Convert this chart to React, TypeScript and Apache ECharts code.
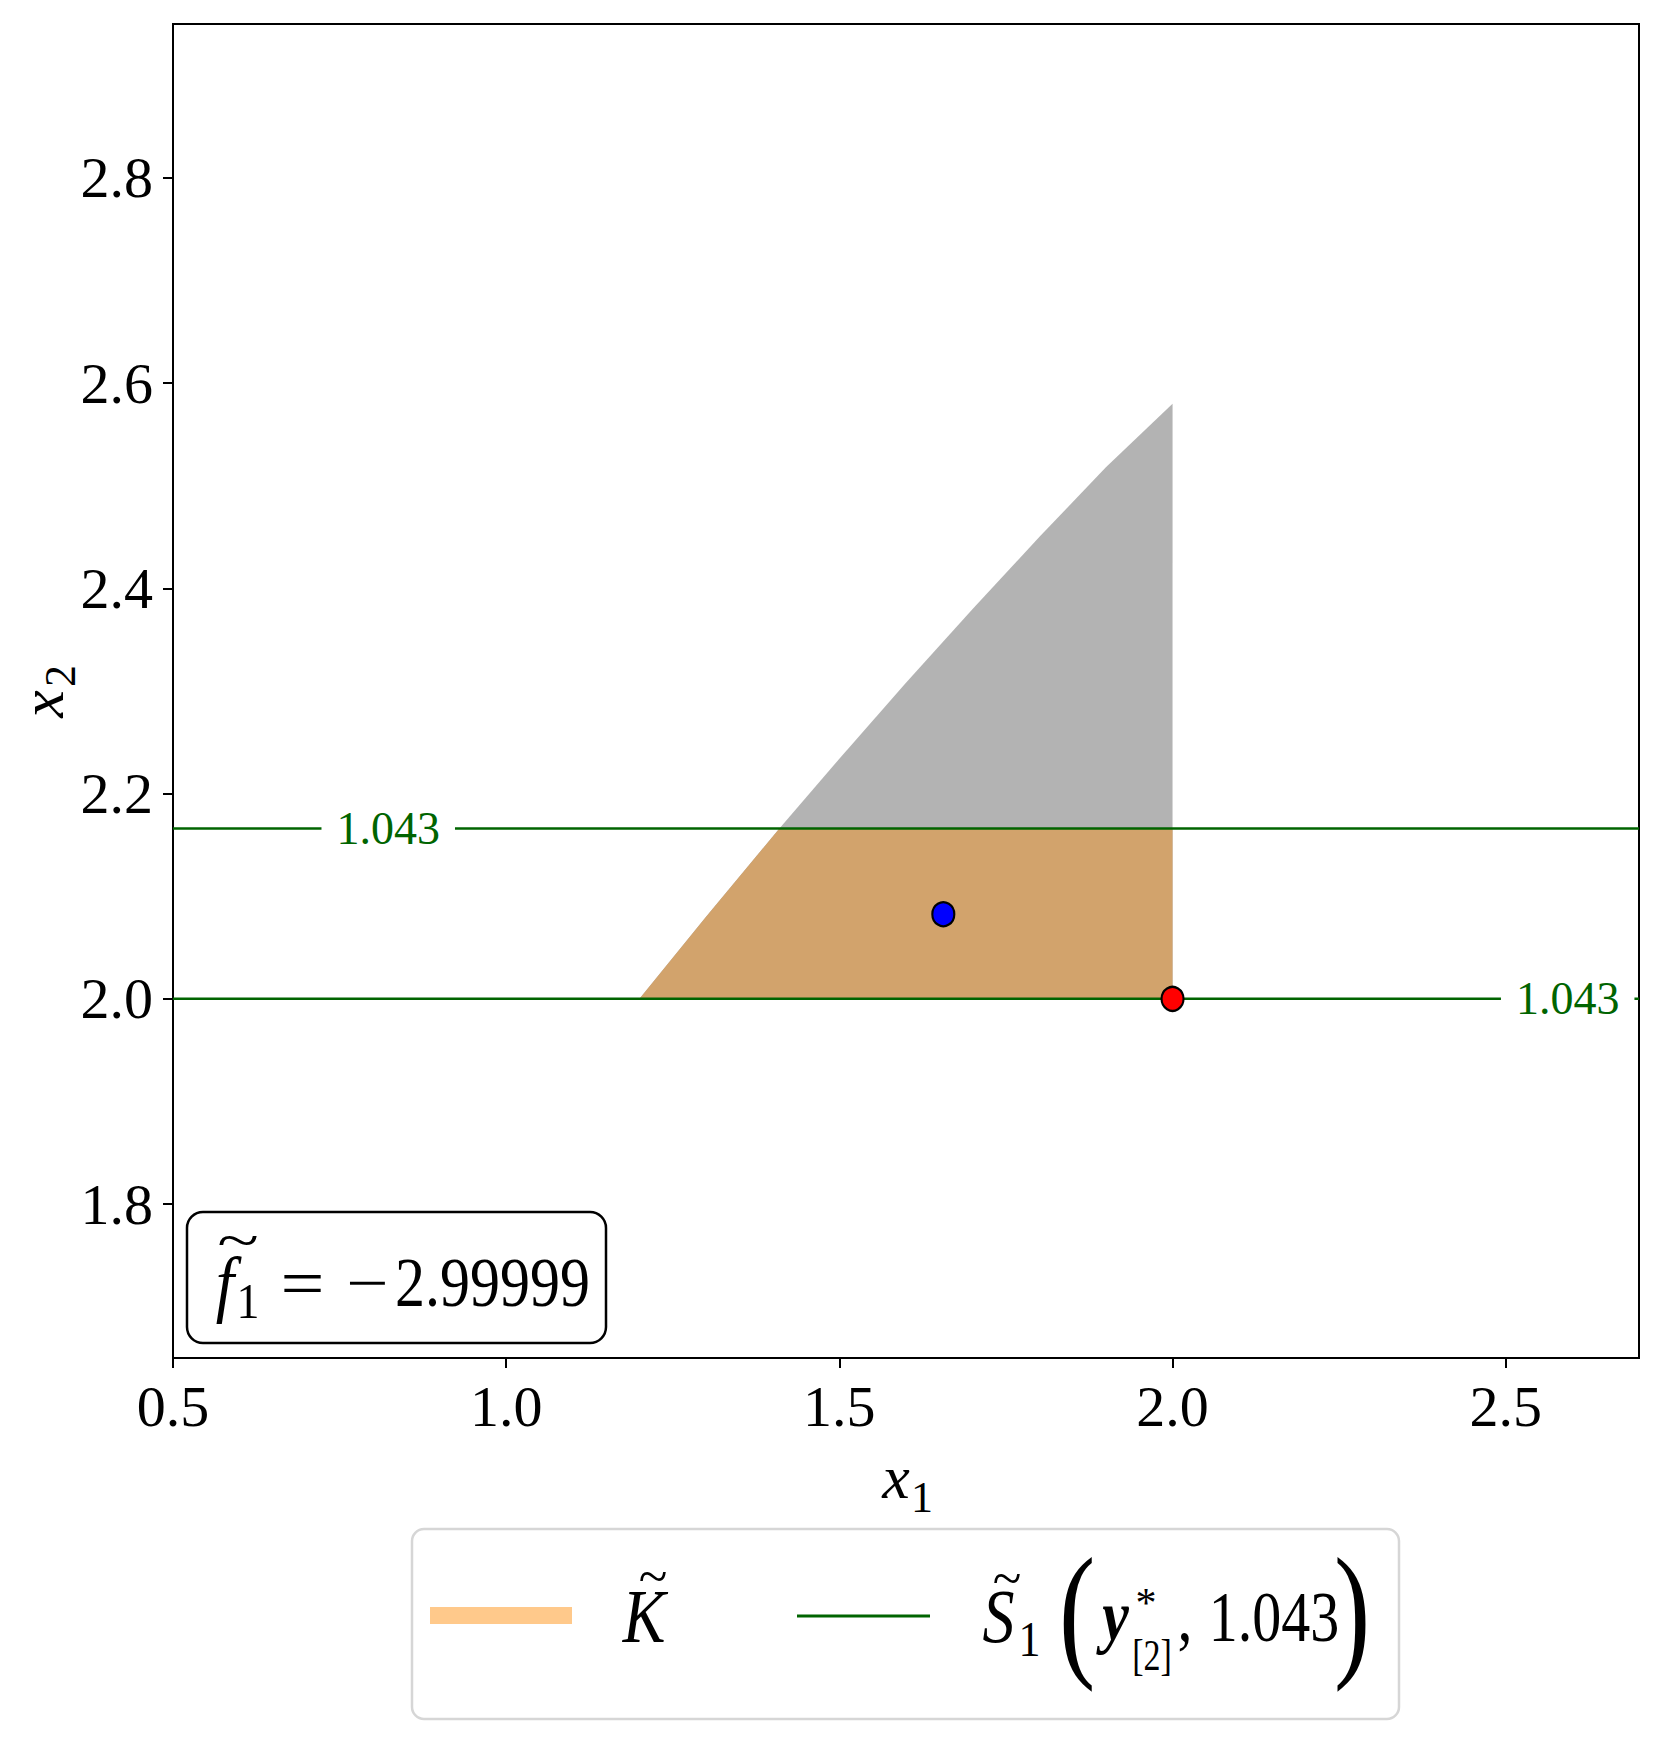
import React, { useEffect, useRef } from 'react';
import * as echarts from 'echarts';

// ---------- data ----------
const xRange = [0.5, 2.7];
const yRange = [1.65, 2.95];
const xTicks = [0.5, 1.0, 1.5, 2.0, 2.5];
const yTicks = [1.8, 2.0, 2.2, 2.4, 2.6, 2.8];

// curved left boundary of the feasible set (x1, x2)
const boundaryX1 = [1.2, 1.3, 1.41, 1.5, 1.6, 1.7, 1.8, 1.9, 2.0];
const boundaryX2 = [2.0, 2.08, 2.166, 2.234, 2.308, 2.38, 2.45, 2.518, 2.58];
const rightEdgeX1 = 2.0;
const baseX2 = 2.0;

// level-set lines S~1(y*, 1.043)
const levelX2 = [2.166, 2.0];
const levelLabel = '1.043';
const levelLabelX1 = [0.823, 2.593];

const bluePoint = [1.656, 2.0825];
const redPoint = [2.0, 2.0];
const f1Value = '2.99999';

const FONT = "'Liberation Serif', 'DejaVu Serif', serif";
const GREEN = '#006400';

type TOpt = { italic?: boolean; bold?: boolean; sx?: number; sy?: number; align?: string; fill?: string };
const T = (text: string, x: number, y: number, fs: number, o: TOpt = {}) => ({
  type: 'text',
  x,
  y,
  scaleX: o.sx ?? 1,
  scaleY: o.sy ?? 1,
  z: 100,
  silent: true,
  style: {
    text,
    fontSize: fs,
    fontFamily: FONT,
    fontStyle: o.italic ? 'italic' : 'normal',
    fontWeight: o.bold ? 'bold' : 'normal',
    fill: o.fill ?? '#000',
    align: o.align ?? 'center',
    verticalAlign: 'middle',
  },
});

export default function App() {
  const ref = useRef<HTMLDivElement>(null);

  useEffect(() => {
    document.body.style.margin = '0';
    const chart = echarts.init(ref.current!, undefined, { renderer: 'svg' });

    const boundary = boundaryX1.map((x, i) => [x, boundaryX2[i]]);
    const grayPoly = [...boundary, [rightEdgeX1, baseX2]];
    const top = levelX2[0];
    const brownPoly = [
      ...boundary.filter((p) => p[1] <= top + 1e-9),
      [rightEdgeX1, top],
      [rightEdgeX1, baseX2],
    ];

    const polySeries = (pts: number[][], color: string, z: number) => ({
      type: 'custom',
      coordinateSystem: 'cartesian2d',
      silent: true,
      z,
      data: pts,
      renderItem: (params: any, api: any) =>
        params.dataIndex === 0
          ? {
              type: 'polygon',
              shape: { points: pts.map((p) => api.coord(p)) },
              style: { fill: color },
            }
          : null,
    });

    const lineSeries = levelX2.map((lv) => ({
      type: 'line',
      data: [
        [xRange[0], lv],
        [xRange[1], lv],
      ],
      symbol: 'none',
      silent: true,
      z: 4,
      lineStyle: { color: GREEN, width: 2.5 },
    }));

    const option: any = {
      animation: false,
      backgroundColor: '#fff',
      grid: {
        left: 173,
        right: 22,
        top: 24,
        bottom: 385,
        show: true,
        borderColor: '#000',
        borderWidth: 2,
        backgroundColor: 'transparent',
        containLabel: false,
        outerBoundsMode: 'none',
      },
      xAxis: {
        type: 'value',
        min: xRange[0],
        max: xRange[1],
        axisLine: { show: true, lineStyle: { color: '#000', width: 2 } },
        splitLine: { show: false },
        axisTick: { show: true, inside: false, length: 10, lineStyle: { color: '#000', width: 2 }, customValues: xTicks },
        axisLabel: {
          customValues: xTicks,
          formatter: (v: number) => v.toFixed(1),
          fontSize: 58,
          fontFamily: FONT,
          color: '#000',
          margin: 19,
        },
      },
      yAxis: {
        type: 'value',
        min: yRange[0],
        max: yRange[1],
        axisLine: { show: true, lineStyle: { color: '#000', width: 2 } },
        splitLine: { show: false },
        axisTick: { show: true, inside: false, length: 10, lineStyle: { color: '#000', width: 2 }, customValues: yTicks },
        axisLabel: {
          customValues: yTicks,
          formatter: (v: number) => v.toFixed(1),
          fontSize: 58,
          fontFamily: FONT,
          color: '#000',
          margin: 20,
        },
      },
      series: [
        polySeries(grayPoly, '#b3b3b3', 1),
        polySeries(brownPoly, '#d2a36c', 2),
        ...lineSeries,
        {
          type: 'scatter',
          data: levelLabelX1.map((x, i) => [x, levelX2[i]]),
          symbolSize: 1,
          itemStyle: { color: '#ffffff', opacity: 1 },
          silent: true,
          z: 8,
          label: {
            show: true,
            position: 'inside',
            formatter: levelLabel,
            color: GREEN,
            fontSize: 46,
            fontFamily: FONT,
            backgroundColor: '#ffffff',
            borderColor: '#ffffff',
            borderWidth: 2,
            padding: [6, 13],
          },
        },
        {
          type: 'scatter',
          data: [
            { value: bluePoint, itemStyle: { color: '#0000ff' } },
            { value: redPoint, itemStyle: { color: '#ff0000' } },
          ],
          symbol: 'circle',
          symbolSize: [22, 24],
          silent: true,
          z: 10,
          itemStyle: { borderColor: '#000', borderWidth: 2.2, opacity: 1 },
        },
      ],
      graphic: [
        // annotation box
        {
          type: 'rect',
          z: 99,
          silent: true,
          shape: { x: 187, y: 1212, width: 419, height: 131, r: 16 },
          style: { fill: '#fff', stroke: '#000', lineWidth: 2.5 },
        },
        T('f', 225, 1283, 66, { italic: true, sy: 1.12 }),
        T('~', 238, 1240, 44, { sx: 1.75, sy: 1.2 }),
        T('1', 248, 1301, 46, { sy: 1.12 }),
        T('=', 302.5, 1283, 60, { sx: 1.3, sy: 1.12 }),
        T('\u2212', 367.5, 1283, 60, { sx: 1.25 }),
        T(f1Value, 395, 1283, 60, { align: 'left', sy: 1.15 }),

        // axis names
        {
          type: 'group',
          x: 896,
          y: 1484,
          children: [T('x', 0, -7, 62, { italic: true }), T('1', 26, 13, 44)],
        },
        {
          type: 'group',
          x: 49,
          y: 704,
          rotation: Math.PI / 2,
          children: [T('x', 0, -7, 62, { italic: true }), T('2', 28, 11, 44)],
        },

        // legend
        {
          type: 'rect',
          z: 98,
          silent: true,
          shape: { x: 412, y: 1529, width: 987, height: 190, r: 12 },
          style: { fill: '#fff', stroke: '#d6d6d6', lineWidth: 2.5 },
        },
        {
          type: 'rect',
          z: 99,
          silent: true,
          shape: { x: 430, y: 1607, width: 142, height: 17 },
          style: { fill: '#ffc98b' },
        },
        {
          type: 'line',
          z: 99,
          silent: true,
          shape: { x1: 797, y1: 1616, x2: 930, y2: 1616 },
          style: { stroke: GREEN, lineWidth: 3 },
        },
        T('K', 644, 1616, 64, { italic: true, sy: 1.2 }),
        T('~', 653, 1576, 44, { sx: 1.2, sy: 1.2 }),
        T('S', 998.5, 1616, 64, { italic: true, sy: 1.2 }),
        T('~', 1007, 1578, 44, { sx: 1.2, sy: 1.2 }),
        T('1', 1029.5, 1639, 44, { sy: 1.15 }),
        T('(', 1077, 1611, 128, { sx: 0.85, sy: 1.15 }),
        T('y', 1115.5, 1616, 60, { italic: true, bold: true, sy: 1.2 }),
        T('*', 1146, 1603, 42),
        T('[2]', 1152, 1655, 34, { sy: 1.3 }),
        T(',', 1185, 1616, 60, { sy: 1.2 }),
        T(levelLabel, 1274, 1616, 58, { sy: 1.25 }),
        T(')', 1352, 1611, 128, { sx: 0.85, sy: 1.15 }),
      ],
    };

    chart.setOption(option);
    return () => chart.dispose();
  }, []);

  return (
    <div
      ref={ref}
      style={{ position: 'absolute', left: 0, top: 0, width: '1661px', height: '1743px', background: '#fff' }}
    />
  );
}
